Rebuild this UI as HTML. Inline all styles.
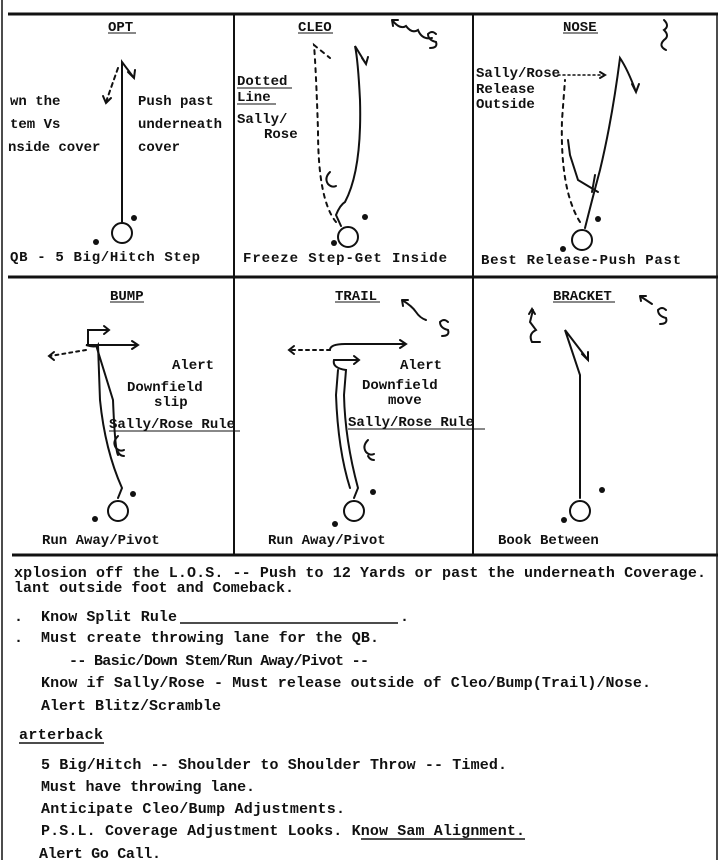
<!DOCTYPE html>
<html><head><style>
html,body{margin:0;padding:0;background:#fff;}
svg{display:block}
text{font-family:"Liberation Mono",monospace;font-weight:bold;fill:#111;}
</style></head><body>
<svg width="721" height="860" viewBox="0 0 721 860" xmlns="http://www.w3.org/2000/svg">
<rect width="721" height="860" fill="#fff"/>
<g stroke="#111" fill="none">
<line x1="8" y1="14" x2="718" y2="14" stroke-width="3"/>
<line x1="8" y1="277" x2="718" y2="277" stroke-width="3"/>
<line x1="12" y1="555" x2="718" y2="555" stroke-width="3"/>
<line x1="234" y1="14" x2="234" y2="555" stroke-width="2"/>
<line x1="473" y1="14" x2="473" y2="555" stroke-width="2"/>
<line x1="717" y1="14" x2="717" y2="860" stroke-width="1.5"/>
<line x1="2" y1="0" x2="2" y2="860" stroke-width="1.5"/>
</g>
<g font-size="14">
<text x="108" y="31">OPT</text><line x1="108" y1="33" x2="136" y2="33" stroke="#111"/>
<text x="10" y="105">wn the</text><text x="10" y="128">tem Vs</text><text x="8" y="151">nside cover</text>
<text x="138" y="105">Push past</text><text x="138" y="128">underneath</text><text x="138" y="151">cover</text>
<text x="10" y="261" textLength="190">QB - 5 Big/Hitch Step</text>
<text x="298" y="31">CLEO</text><line x1="298" y1="33" x2="333" y2="33" stroke="#111"/>
<text x="237" y="85">Dotted</text><line x1="237" y1="88" x2="292" y2="88" stroke="#111"/>
<text x="237" y="101">Line</text><line x1="237" y1="104" x2="276" y2="104" stroke="#111"/>
<text x="237" y="123">Sally/</text><text x="264" y="138">Rose</text>
<text x="243" y="262" textLength="204">Freeze Step-Get Inside</text>
<text x="563" y="31">NOSE</text><line x1="563" y1="33" x2="598" y2="33" stroke="#111"/>
<text x="476" y="77">Sally/Rose</text><text x="476" y="93">Release</text><text x="476" y="108">Outside</text>
<text x="481" y="264" textLength="200">Best Release-Push Past</text>
<text x="110" y="300">BUMP</text><line x1="110" y1="302" x2="144" y2="302" stroke="#111"/>
<text x="172" y="369">Alert</text><text x="127" y="391">Downfield</text><text x="154" y="406">slip</text>
<text x="109" y="428">Sally/Rose Rule</text><line x1="109" y1="431" x2="240" y2="431" stroke="#111"/>
<text x="42" y="544">Run Away/Pivot</text>
<text x="335" y="300">TRAIL</text><line x1="335" y1="302" x2="380" y2="302" stroke="#111"/>
<text x="400" y="369">Alert</text><text x="362" y="389">Downfield</text><text x="388" y="404">move</text>
<text x="348" y="426">Sally/Rose Rule</text><line x1="348" y1="429" x2="485" y2="429" stroke="#111"/>
<text x="268" y="544">Run Away/Pivot</text>
<text x="553" y="300">BRACKET</text><line x1="553" y1="302" x2="615" y2="302" stroke="#111"/>
<text x="498" y="544">Book Between</text>
</g>
<g stroke="#111" stroke-width="2" fill="none" stroke-linecap="round">
<circle cx="122" cy="233" r="10"/><path d="M122 222 V62 L134 78 M128 72 l6 6 l1 -8"/>
<path d="M118 68 L106 102" stroke-dasharray="4 4"/><path d="M103 96 l3 7 l5 -5"/>
<circle cx="348" cy="237" r="10"/>
<path d="M341 226 L336 215 Q340 205 345 202 Q362 170 360 100 Q358 60 355 46 L366 64 M362 58 l4 6 l2 -7"/>
<path d="M336 222 Q318 200 318 130 Q316 70 314 45 L330 58" stroke-dasharray="4 5"/>
<path d="M330 172 q-6 6 -2 12 q4 4 8 2"/>
<circle cx="582" cy="240" r="10"/>
<path d="M585 228 Q592 200 600 170 Q612 120 620 58 Q628 70 636 92 M632 84 l4 8 l3 -8"/>
<path d="M580 222 Q560 190 562 120 L565 80" stroke-dasharray="4 5"/>
<path d="M558 75 H603" stroke-dasharray="2 3" stroke-width="1.5"/><path d="M600 72 l5 3 l-5 3"/>
<path d="M598 192 L578 180 L570 155 L568 140 M592 192 L595 175"/>
<circle cx="118" cy="511" r="10"/>
<path d="M118 498 L122 488 Q105 450 100 400 L98 345 Q96 348 86 345 H138 M132 341 l6 4 l-6 4"/>
<path d="M96 345 L113 400 Q115 450 118 455"/>
<path d="M88 345 V330 H108 M104 326 l5 4 l-5 4"/>
<path d="M86 350 L50 356" stroke-dasharray="3 4"/><path d="M54 352 l-5 4 l5 4"/>
<path d="M118 436 q-6 6 -2 12 q4 4 8 2 M118 452 q2 4 6 4"/>
<circle cx="354" cy="511" r="10"/>
<path d="M354 498 L358 488 Q345 440 344 395 L346 370 Q332 368 334 360 H358 M354 356 l5 4 l-5 4"/>
<path d="M338 370 L336 395 Q338 450 350 488"/>
<path d="M330 350 Q330 344 345 344 H406 M400 340 l6 4 l-6 4"/>
<path d="M330 350 L290 350" stroke-dasharray="3 4"/><path d="M294 346 l-5 4 l5 4"/>
<path d="M368 440 q-6 6 -2 12 q4 4 8 2 M368 456 q2 4 6 4"/>
<circle cx="580" cy="511" r="10"/>
<path d="M580 498 V375 L565 330 L588 360 M582 354 l6 6 l0 -8"/>
<path d="M533 310 L530 322 L536 330 Q528 334 532 342 H540 M529 314 l3 -5 l3 5"/>
<path d="M392 20 Q400 30 406 26 Q412 34 418 30 Q422 40 432 38 M392 20 l6 0 M392 20 l1 6"/>
<path d="M436 34 q-4 -4 -8 0 q0 6 8 8 q2 6 -6 6"/>
<path d="M402 300 Q412 306 416 312 Q420 318 426 320 M402 300 l6 0 M402 300 l1 6"/>
<path d="M448 322 q-4 -4 -8 0 q0 6 8 8 q2 6 -6 6"/>
<path d="M640 296 l12 8 M640 296 l6 0 M640 296 l1 5"/>
<path d="M666 310 q-4 -4 -8 0 q0 6 8 8 q2 6 -6 6"/>
<path d="M664 20 q6 6 0 10 q6 6 0 10 q-6 6 2 10"/>
</g>
<g fill="#111">
<circle cx="134" cy="218" r="3"/><circle cx="96" cy="242" r="3"/>
<circle cx="365" cy="217" r="3"/><circle cx="334" cy="243" r="3"/>
<circle cx="598" cy="219" r="3"/><circle cx="563" cy="249" r="3"/>
<circle cx="133" cy="494" r="3"/><circle cx="95" cy="519" r="3"/>
<circle cx="373" cy="492" r="3"/><circle cx="335" cy="524" r="3"/>
<circle cx="602" cy="490" r="3"/><circle cx="564" cy="520" r="3"/>
</g>
<g font-size="15">
<text x="14" y="577" textLength="692">xplosion off the L.O.S. -- Push to 12 Yards or past the underneath Coverage.</text>
<text x="14" y="592" textLength="280">lant outside foot and Comeback.</text>
<text x="14" y="621">.</text>
<text x="41" y="621" textLength="136">Know Split Rule</text>
<line x1="180" y1="623" x2="398" y2="623" stroke="#111" stroke-width="1.5"/>
<text x="400" y="621">.</text>
<text x="14" y="642">.</text>
<text x="41" y="642" textLength="338">Must create throwing lane for the QB.</text>
<text x="69" y="665" textLength="300">-- Basic/Down Stem/Run Away/Pivot --</text>
<text x="41" y="687" textLength="610">Know if Sally/Rose - Must release outside of Cleo/Bump(Trail)/Nose.</text>
<text x="41" y="710" textLength="180">Alert Blitz/Scramble</text>
<text x="19" y="739" textLength="84">arterback</text>
<line x1="19" y1="743" x2="104" y2="743" stroke="#111" stroke-width="1.5"/>
<text x="41" y="769" textLength="466">5 Big/Hitch -- Shoulder to Shoulder Throw -- Timed.</text>
<text x="41" y="791" textLength="214">Must have throwing lane.</text>
<text x="41" y="813" textLength="304">Anticipate Cleo/Bump Adjustments.</text>
<text x="41" y="835" textLength="484">P.S.L. Coverage Adjustment Looks.  Know Sam Alignment.</text>
<line x1="361" y1="839" x2="525" y2="839" stroke="#111" stroke-width="1.5"/>
<text x="39" y="858" textLength="122">Alert Go Call.</text>
</g>
</svg>
</body></html>
